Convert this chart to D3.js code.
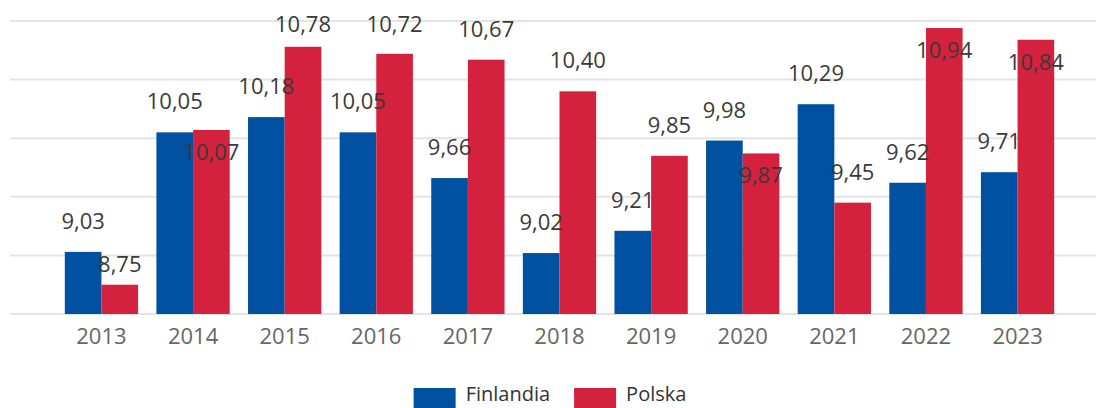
<!DOCTYPE html>
<html><head><meta charset="utf-8">
<script src="https://cdn.jsdelivr.net/npm/d3@7"></script>
<style>body{margin:0;background:#fff;overflow:hidden} svg{display:block} text{font-family:"Open Sans",sans-serif}</style>
</head><body><svg id="c" width="1096" height="408"></svg>
<script>
const years = ["2013","2014","2015","2016","2017","2018","2019","2020","2021","2022","2023"];
const finlandia = [9.03,10.05,10.18,10.05,9.66,9.02,9.21,9.98,10.29,9.62,9.71];
const polska = [8.75,10.07,10.78,10.72,10.67,10.40,9.85,9.87,9.45,10.94,10.84];
const seriesNames = ["Finlandia","Polska"];
const seriesColors = ["#0051A1","#D4213D"];
const yTicks = [8.5,9,9.5,10,10.5,11];

const svg = d3.select("#c");
const W = 1096;
const x0 = d3.scaleBand().domain(years).range([19,1100]).paddingInner(0.2).paddingOuter(0.5);
const x1 = d3.scaleBand().domain(seriesNames).range([0,x0.bandwidth()]);
const y = d3.scaleLinear().domain([8.5,11]).range([314,21]);
const fmt = v => d3.format(".2f")(v).replace(".",",");

// gridlines
svg.append("g").selectAll("line").data(yTicks).join("line")
  .attr("x1",10).attr("x2",W).attr("y1",d=>y(d)).attr("y2",d=>y(d))
  .attr("stroke","#e4e4e4").attr("stroke-width",2);

const rows = years.map((yr,i)=>({year:yr, vals:[finlandia[i],polska[i]]}));

// bars
const g = svg.append("g");
rows.forEach(r=>{
  r.vals.forEach((v,j)=>{
    g.append("rect")
      .attr("x",x0(r.year)+x1(seriesNames[j]))
      .attr("y",y(v))
      .attr("width",x1.bandwidth())
      .attr("height",y(8.5)-y(v))
      .attr("fill",seriesColors[j]);
  });
});

// x axis labels
const xa = d3.axisBottom(x0).tickSize(0).tickPadding(14);
const ax = svg.append("g").attr("transform","translate(0,314)").call(xa);
ax.select(".domain").remove();
ax.selectAll("text").attr("font-size",22).attr("fill","#666").attr("font-family","Open Sans");

// data labels
const lg = svg.append("g").attr("font-size",22).attr("fill","#3a3a3a").attr("text-anchor","middle");
rows.forEach(r=>{
  const blueBase = y(r.vals[0]) - 23;
  lg.append("text").attr("x",x0(r.year)+x1("Finlandia")+x1.bandwidth()/2).attr("y",blueBase).text(fmt(r.vals[0]));
  let redBase = y(r.vals[1]) - 23;
  const diff = redBase - blueBase;
  if (redBase - 16 < 5 || Math.abs(diff) < 28) {
    redBase = y(r.vals[1]) + 30;
  } else if (diff >= 28 && diff < 43) {
    redBase = blueBase + 43;
  } else {
    redBase = Math.max(redBase, 32);
  }
  lg.append("text").attr("x",x0(r.year)+x1("Polska")+x1.bandwidth()/2).attr("y",redBase).text(fmt(r.vals[1]));
});

// legend
const leg = svg.append("g");
let items = seriesNames.map((n,i)=>{
  const it = leg.append("g");
  it.append("rect").attr("width",42).attr("height",20).attr("y",388).attr("fill",seriesColors[i]);
  const t = it.append("text").attr("x",52).attr("y",401).attr("font-size",20).attr("fill","#333").text(n);
  return {it, w: 52 + t.node().getComputedTextLength()};
});
const gap = 24;
const total = d3.sum(items,d=>d.w) + gap*(items.length-1);
let cx = (W - total)/2 + 2;
items.forEach(d=>{ d.it.attr("transform",`translate(${cx},0)`); cx += d.w + gap; });
</script>
</body></html>
